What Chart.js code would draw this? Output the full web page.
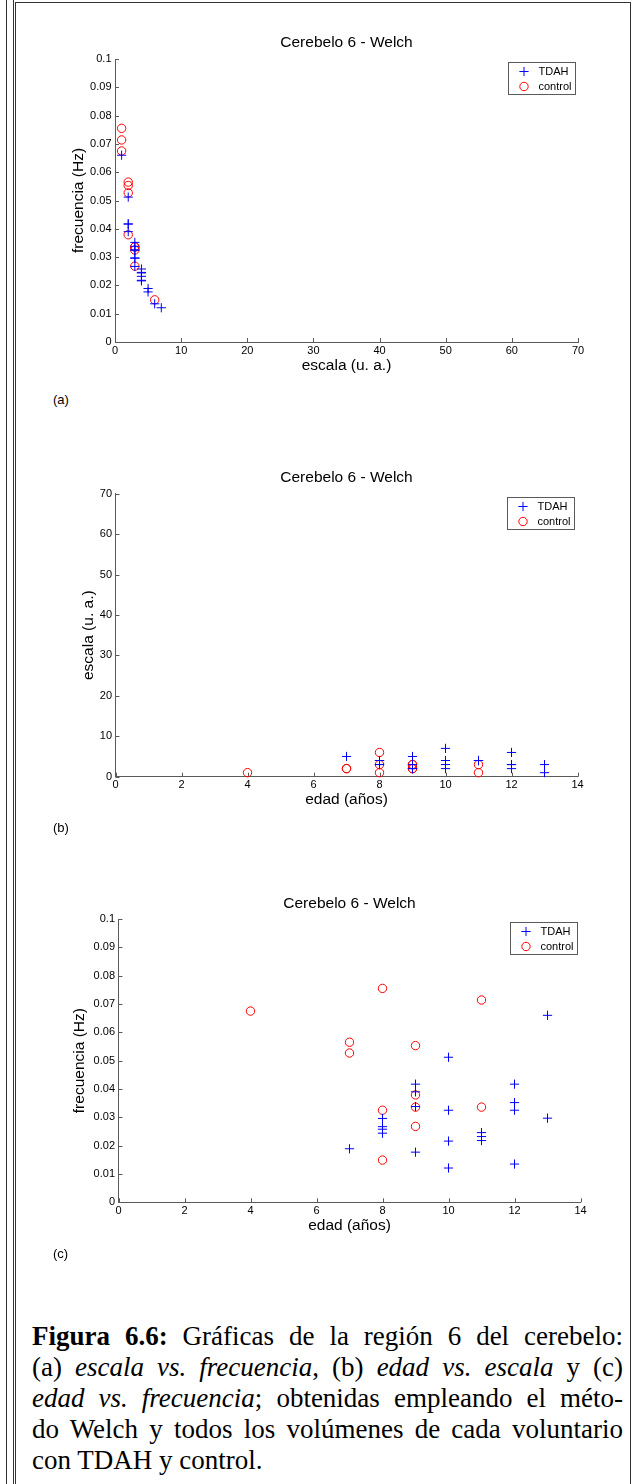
<!DOCTYPE html>
<html><head><meta charset="utf-8">
<script src="https://cdn.jsdelivr.net/npm/chart.js@4"></script>
<style>
html,body{margin:0;padding:0;background:#fff;}
body{width:635px;height:1484px;position:relative;overflow:hidden;}
canvas{position:absolute;}
.fr{position:absolute;background:#333;}
.plab{position:absolute;left:53px;font-family:"Liberation Sans",Arial,sans-serif;font-size:13px;line-height:15px;color:#000;}
#cap{position:absolute;left:32px;top:1321px;width:591px;font-family:"Liberation Serif","Times New Roman",serif;font-size:27px;line-height:31px;color:#000;}
#cap .j{text-align:justify;text-align-last:justify;}
</style></head><body>
<div class="fr" style="left:6px;top:0;width:1px;height:1484px"></div>
<div class="fr" style="left:13px;top:0;width:1px;height:1484px"></div>
<div class="fr" style="left:15px;top:2px;width:1px;height:1482px"></div>
<div class="fr" style="left:15px;top:2px;width:616px;height:1px"></div>
<div class="fr" style="left:630px;top:2px;width:1px;height:1482px"></div>

<canvas id="ca"></canvas>
<canvas id="cb"></canvas>
<canvas id="cc"></canvas>
<div class="plab" style="top:392px">(a)</div>
<div class="plab" style="top:820px">(b)</div>
<div class="plab" style="top:1246px">(c)</div>

<div id="cap">
<div class="j"><b>Figura 6.6:</b> Gráficas de la región 6 del cerebelo:</div>
<div class="j">(a) <i>escala vs. frecuencia</i>, (b) <i>edad vs. escala</i> y (c)</div>
<div class="j"><i>edad vs. frecuencia</i>; obtenidas empleando el méto-</div>
<div class="j">do Welch y todos los volúmenes de cada voluntario</div>
<div>con TDAH y control.</div>
</div>

<script>
// ---- data ----
const tdahEdad   = [7, 8, 8, 8, 8, 9, 9, 9, 9, 10, 10, 10, 10, 11, 11, 11, 12, 12, 12, 12, 13, 13];
const tdahEscala = [5, 3, 3, 4, 4, 2, 2, 3, 5, 2, 3, 4, 7, 4, 4, 4, 2, 3, 3, 6, 1, 3];
const tdahFrec   = [0.0189, 0.0296, 0.0267, 0.0258, 0.0244, 0.0417, 0.039, 0.0338, 0.0177, 0.0512, 0.0325, 0.0216, 0.0121, 0.0246, 0.0232, 0.0218, 0.0417, 0.0352, 0.0325, 0.0135, 0.066, 0.0297];
const controlEdad   = [4, 7, 7, 8, 8, 8, 9, 9, 9, 9, 11, 11];
const controlEscala = [1, 2, 2, 1, 3, 6, 2, 2, 3, 3, 1, 3];
const controlFrec   = [0.0675, 0.0565, 0.0527, 0.0755, 0.0325, 0.0149, 0.0553, 0.0379, 0.0336, 0.0268, 0.0714, 0.0336];

const seriesNames = ['TDAH', 'control'];
const chartTitle = 'Cerebelo 6 - Welch';
const escalaTicks = [0, 10, 20, 30, 40, 50, 60, 70];
const edadTicks = [0, 2, 4, 6, 8, 10, 12, 14];
const frecTicks = [0, 0.01, 0.02, 0.03, 0.04, 0.05, 0.06, 0.07, 0.08, 0.09, 0.1];
const escalaYTicks = [0, 10, 20, 30, 40, 50, 60, 70];
const labelEscala = 'escala (u. a.)';
const labelFrec = 'frecuencia (Hz)';
const labelEdad = 'edad (años)';

// ---- styling ----
const FONT = '"Liberation Sans", Arial, Helvetica, sans-serif';
const AXIS = '#5a5a5a';
const BIG = 15.5, LH = BIG * 1.2;

const pts = (xs, ys) => xs.map((x, i) => ({x: x, y: ys[i]}));

function sets(xT, yT, xC, yC) {
  return [
    {label: seriesNames[0], data: pts(xT, yT), pointStyle: 'cross', pointRadius: 4.6, pointHoverRadius: 4.6,
     borderColor: '#0000ff', backgroundColor: '#0000ff', borderWidth: 1, showLine: false},
    {label: seriesNames[1], data: pts(xC, yC), pointStyle: 'circle', pointRadius: 4.2, pointHoverRadius: 4.2,
     borderColor: '#ff0000', backgroundColor: 'rgba(0,0,0,0)', borderWidth: 1, showLine: false}
  ];
}

const inTicks = {
  id: 'inTicks',
  beforeDatasetsDraw(chart) {
    const {ctx, chartArea: a, scales: {x, y}} = chart;
    ctx.save(); ctx.strokeStyle = AXIS; ctx.lineWidth = 1; ctx.beginPath();
    x.ticks.forEach(t => { const p = Math.round(x.getPixelForValue(t.value)) + 0.5; ctx.moveTo(p, a.bottom); ctx.lineTo(p, a.bottom - 4); });
    y.ticks.forEach(t => { const p = Math.round(y.getPixelForValue(t.value)) + 0.5; ctx.moveTo(a.left, p); ctx.lineTo(a.left + 4, p); });
    ctx.stroke(); ctx.restore();
  }
};

// title centred over the axes (MATLAB style)
const axTitle = {
  id: 'axTitle',
  afterDraw(chart, args, opts) {
    const {ctx, chartArea: a} = chart;
    ctx.save();
    ctx.font = BIG + 'px ' + FONT; ctx.fillStyle = '#000';
    ctx.textAlign = 'center'; ctx.textBaseline = 'middle';
    ctx.fillText(opts.text, (a.left + a.right) / 2, opts.y);
    ctx.restore();
  }
};

const boxLegend = {
  id: 'boxLegend',
  afterDraw(chart) {
    const {ctx, chartArea: a} = chart;
    const w = 67, h = 32;
    const x0 = Math.round(a.right - 3.5 - w) + 0.5, y0 = Math.round(a.top + 3) + 0.5;
    ctx.save();
    ctx.fillStyle = '#fff'; ctx.fillRect(x0, y0, w, h);
    ctx.strokeStyle = AXIS; ctx.lineWidth = 1; ctx.strokeRect(x0, y0, w, h);
    chart.data.datasets.forEach((ds, i) => {
      const cy = y0 + 9 + i * 15, cx = x0 + 15.5;
      ctx.strokeStyle = ds.borderColor; ctx.fillStyle = ds.backgroundColor; ctx.lineWidth = 1;
      Chart.helpers.drawPoint(ctx, {pointStyle: ds.pointStyle, radius: ds.pointRadius, borderWidth: 1, rotation: 0}, cx, cy);
      ctx.fillStyle = '#000'; ctx.font = '11px ' + FONT; ctx.textBaseline = 'middle'; ctx.textAlign = 'left';
      ctx.fillText(ds.label, x0 + 30, cy + 0.5);
    });
    ctx.restore();
  }
};

function makeChart(id, g, datasets, xTicks, yTicks, xLabel, yLabel) {
  const cv = document.getElementById(id);
  cv.width = g.cw; cv.height = g.ch;
  cv.style.left = g.cl + 'px'; cv.style.top = g.ct + 'px';
  const tick = {font: {family: FONT, size: 11}, color: '#000', autoSkip: false, maxRotation: 0, callback: v => String(v)};
  return new Chart(cv, {
    type: 'scatter',
    data: {datasets: datasets},
    options: {
      responsive: false, animation: false, events: [],
      layout: {padding: {left: 0, top: g.T - g.ct, bottom: 0, right: g.cl + g.cw - g.R}},
      plugins: {
        legend: {display: false}, tooltip: {enabled: false}, title: {display: false},
        axTitle: {text: chartTitle, y: g.tY - g.ct}
      },
      elements: {point: {hitRadius: 0}},
      datasets: {scatter: {clip: false}},
      scales: {
        x: {type: 'linear', position: 'bottom', min: xTicks[0], max: xTicks[xTicks.length - 1],
            afterBuildTicks: s => { s.ticks = xTicks.map(v => ({value: v})); },
            afterFit: s => { s.height = g.ct + g.ch - g.B; },
            grid: {display: true, drawOnChartArea: false, drawTicks: false},
            border: {display: true, color: AXIS, width: 1},
            ticks: Object.assign({padding: 2}, tick),
            title: {display: true, text: xLabel, color: '#000', font: {family: FONT, size: BIG},
                    padding: {top: 0, bottom: (g.ct + g.ch) - g.xY - LH / 2}}},
        y: {type: 'linear', position: 'left', min: yTicks[0], max: yTicks[yTicks.length - 1],
            afterBuildTicks: s => { s.ticks = yTicks.map(v => ({value: v})); },
            afterFit: s => { s.width = g.L - g.cl; },
            grid: {display: true, drawOnChartArea: false, drawTicks: false},
            border: {display: true, color: AXIS, width: 1},
            ticks: Object.assign({padding: 3.5}, tick),
            title: {display: true, text: yLabel, color: '#000', font: {family: FONT, size: BIG},
                    padding: {top: g.yX - g.cl - LH / 2, bottom: 0}}}
      }
    },
    plugins: [inTicks, axTitle, boxLegend]
  });
}

makeChart('ca', {cl: 60, cw: 573, ct: 0, ch: 390, L: 115, R: 578, T: 59, B: 342, tY: 43, xY: 366, yX: 78.3},
  sets(tdahEscala, tdahFrec, controlEscala, controlFrec), escalaTicks, frecTicks, labelEscala, labelFrec);
makeChart('cb', {cl: 60, cw: 573, ct: 420, ch: 395, L: 115.5, R: 577.5, T: 493.7, B: 776.7, tY: 478, xY: 800, yX: 88.5},
  sets(tdahEdad, tdahEscala, controlEdad, controlEscala), edadTicks, escalaYTicks, labelEdad, labelEscala);
makeChart('cc', {cl: 64, cw: 571, ct: 850, ch: 390, L: 118.5, R: 580.5, T: 919, B: 1202.3, tY: 904, xY: 1226, yX: 80},
  sets(tdahEdad, tdahFrec, controlEdad, controlFrec), edadTicks, frecTicks, labelEdad, labelFrec);
</script>
</body></html>
